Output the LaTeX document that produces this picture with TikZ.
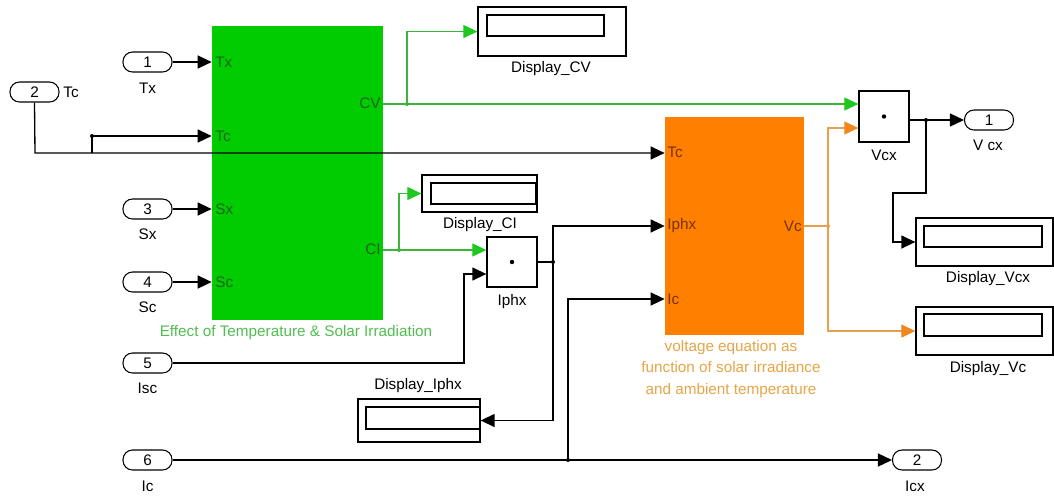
\documentclass[tikz,border=0pt]{standalone}
\usepackage{fontspec}
\setmainfont{Liberation Sans}
\usetikzlibrary{arrows.meta}
\definecolor{gfill}{RGB}{0,204,0}
\definecolor{gline}{RGB}{60,180,60}
\definecolor{ghead}{RGB}{30,200,30}
\definecolor{gtext}{RGB}{30,100,30}
\definecolor{gcap}{RGB}{80,190,80}
\definecolor{ofill}{RGB}{255,128,0}
\definecolor{oline}{RGB}{230,160,80}
\definecolor{ohead}{RGB}{240,135,30}
\definecolor{otext}{RGB}{120,50,0}
\definecolor{ocap}{RGB}{230,165,70}
\tikzset{
  every node/.style={font=\fontsize{8.7}{10.5}\selectfont, inner sep=0pt},
  port/.style={draw, line width=0.6pt, rounded corners=0.19cm, minimum width=0.98cm, minimum height=0.4cm},
  blk/.style={draw, line width=0.75pt, fill=white, minimum width=1.0cm, minimum height=1.02cm},
  dispout/.style={draw, line width=0.75pt, fill=white},
  dispin/.style={draw, line width=0.75pt},
  wire/.style={line width=0.75pt, black},
  warr/.style={wire, -{Triangle[length=0.28cm, width=0.26cm]}},
  gwire/.style={line width=0.6pt, gline},
  garr/.style={gwire, -{Triangle[length=0.28cm, width=0.26cm, color=ghead, fill=ghead]}},
  owire/.style={line width=0.6pt, oline},
  oarr/.style={owire, -{Triangle[length=0.28cm, width=0.26cm, color=ohead, fill=ohead]}},
}
\begin{document}
\begin{tikzpicture}[x=0.02cm, y=-0.02cm]
\useasboundingbox (0,0) rectangle (1054,495);
% main blocks
\node[fill=gfill, minimum width=3.42cm, minimum height=5.88cm] (green) at (297.5,173) {};
\node[fill=ofill, minimum width=2.78cm, minimum height=4.36cm] (orange) at (734.5,226) {};
\node[blk] (vcx) at (884,116.5) {};
\fill (vcx.center) circle (2.2);
\node[blk, minimum height=1.0cm] (iphx) at (512,262) {};
\fill (iphx.center) circle (2.2);
% displays
\node[dispout, minimum width=2.96cm, minimum height=0.98cm] (dcv) at (552,31.5) {};
\node[dispin, minimum width=2.34cm, minimum height=0.42cm] (dcvi) at (545.5,25.5) {};
\node[dispout, minimum width=2.3cm, minimum height=0.74cm] (dci) at (479.5,193.5) {};
\node[dispin, minimum width=2.1cm, minimum height=0.42cm] (dcii) at (483.5,193.5) {};
\node[dispout, minimum width=2.74cm, minimum height=0.96cm] (dvcx) at (984.5,242) {};
\node[dispin, minimum width=2.36cm, minimum height=0.42cm] (dvcxi) at (983,236.5) {};
\node[dispout, minimum width=2.74cm, minimum height=0.96cm] (dvc) at (984.5,331) {};
\node[dispin, minimum width=2.36cm, minimum height=0.44cm] (dvci) at (983,325) {};
\node[dispout, minimum width=2.44cm, minimum height=0.86cm] (diphx) at (419,420.5) {};
\node[dispin, minimum width=2.28cm, minimum height=0.44cm] (diphxi) at (423,418) {};
% ports
\node[port] (in1) at (147.5,62) {1};
\node[port] (in2) at (34.5,92) {2};
\node[port] (in3) at (147.5,209) {3};
\node[port] (in4) at (147.5,282) {4};
\node[port] (in5) at (147.5,363) {5};
\node[port] (in6) at (147.5,460) {6};
\node[port] (out1) at (989,120) {1};
\node[port] (out2) at (917,460) {2};
% port labels
\node (lin1) at (147.5,88) {Tx};
\node[anchor=west] (lin2) at (63,92) {Tc};
\node (lin3) at (147.5,234) {Sx};
\node (lin4) at (147.5,307) {Sc};
\node (lin5) at (147.5,388) {Isc};
\node (lin6) at (147.5,486) {Ic};
\node (lout1) at (988,145) {V cx};
\node (lout2) at (915,486) {Icx};
% block port labels
\node[anchor=west, text=gtext] (gtx) at (215,62) {Tx};
\node[anchor=west, text=gtext] (gtc) at (215,136) {Tc};
\node[anchor=west, text=gtext] (gsx) at (215,209) {Sx};
\node[anchor=west, text=gtext] (gsc) at (215,282) {Sc};
\node[anchor=east, text=gtext] (gcv) at (381,103) {CV};
\node[anchor=east, text=gtext] (gci) at (381,249) {CI};
\node[anchor=west, text=otext] (otc) at (667,152) {Tc};
\node[anchor=west, text=otext] (oiphx) at (667,226) {Iphx};
\node[anchor=west, text=otext] (oic) at (667,299) {Ic};
\node[anchor=east, text=otext] (ovc) at (802,226) {Vc};
% captions
\node[text=gcap] (gcapn) at (296,333) {Effect of Temperature \& Solar Irradiation};
\node[text=ocap, align=center, font=\fontsize{8.7}{12}\selectfont] (ocapn) at (731,369) {voltage equation as\\function of solar irradiance\\and ambient temperature};
\node (ldcv) at (551,69) {Display\_CV};
\node (ldci) at (480,225) {Display\_CI};
\node (ldvcx) at (988,279) {Display\_Vcx};
\node (ldvc) at (988,369) {Display\_Vc};
\node (ldiphx) at (418,386) {Display\_Iphx};
\node (liphx) at (512,302) {Iphx};
\node (lvcx) at (884,155) {Vcx};
% branch coordinates
\coordinate (b2a) at (35,153);
\coordinate (btc) at (92,153);
\coordinate (btc2) at (92,136);
\coordinate (bcv) at (407,104);
\coordinate (bci) at (399,250);
\coordinate (b5) at (464,363);
\coordinate (biph) at (553,262);
\coordinate (bvc) at (828,226);
\coordinate (bvcx) at (926,120);
\coordinate (bic) at (568,460);
% black wires
\draw[warr] (in1.east) -- (green.west |- in1.east);
\draw[warr] (in3.east) -- (green.west |- in3.east);
\draw[warr] (in4.east) -- (green.west |- in4.east);
\draw[warr] (in2.south) -- (b2a) -- (orange.west |- b2a);
\draw[warr] (btc) -- (btc2) -- (green.west |- btc2);
\draw[warr] (in5.east) -- (b5) -- (b5 |- 0,274) -- (iphx.west |- 0,274);
\draw[wire] (iphx.east) -- (biph);
\draw[warr] (biph) -- (biph |- 0,226) -- (orange.west |- 0,226);
\draw[warr] (biph) -- (biph |- diphx.east) -- (diphx.east);
\draw[warr] (in6.east) -- (out2.west);
\draw[warr] (bic) -- (bic |- 0,299) -- (orange.west |- 0,299);
\draw[wire] (vcx.east |- out1.west) -- (bvcx);
\draw[warr] (bvcx) -- (out1.west);
\draw[warr] (bvcx) -- (926,193) -- (893,193) -- (893,242) -- (dvcx.west);
% green wires
\draw[garr] (green.east |- bcv) -- (vcx.west |- bcv);
\draw[garr] (bcv) -- (bcv |- dcv.west) -- (dcv.west);
\draw[garr] (green.east |- bci) -- (iphx.west |- bci);
\draw[garr] (bci) -- (bci |- dci.west) -- (dci.west);
% orange wires
\draw[owire] (orange.east |- bvc) -- (bvc);
\draw[oarr] (bvc) -- (bvc |- 0,128) -- (vcx.west |- 0,128);
\draw[oarr] (bvc) -- (bvc |- dvc.west) -- (dvc.west);
% dots
\fill (btc2) circle (2);
\fill (biph) circle (2);
\fill (bic) circle (2);
\fill (bvcx) circle (2);
\fill[gline] (bcv) circle (2);
\fill[gline] (bci) circle (2);
\fill[oline] (bvc) circle (2);
\end{tikzpicture}
\end{document}
